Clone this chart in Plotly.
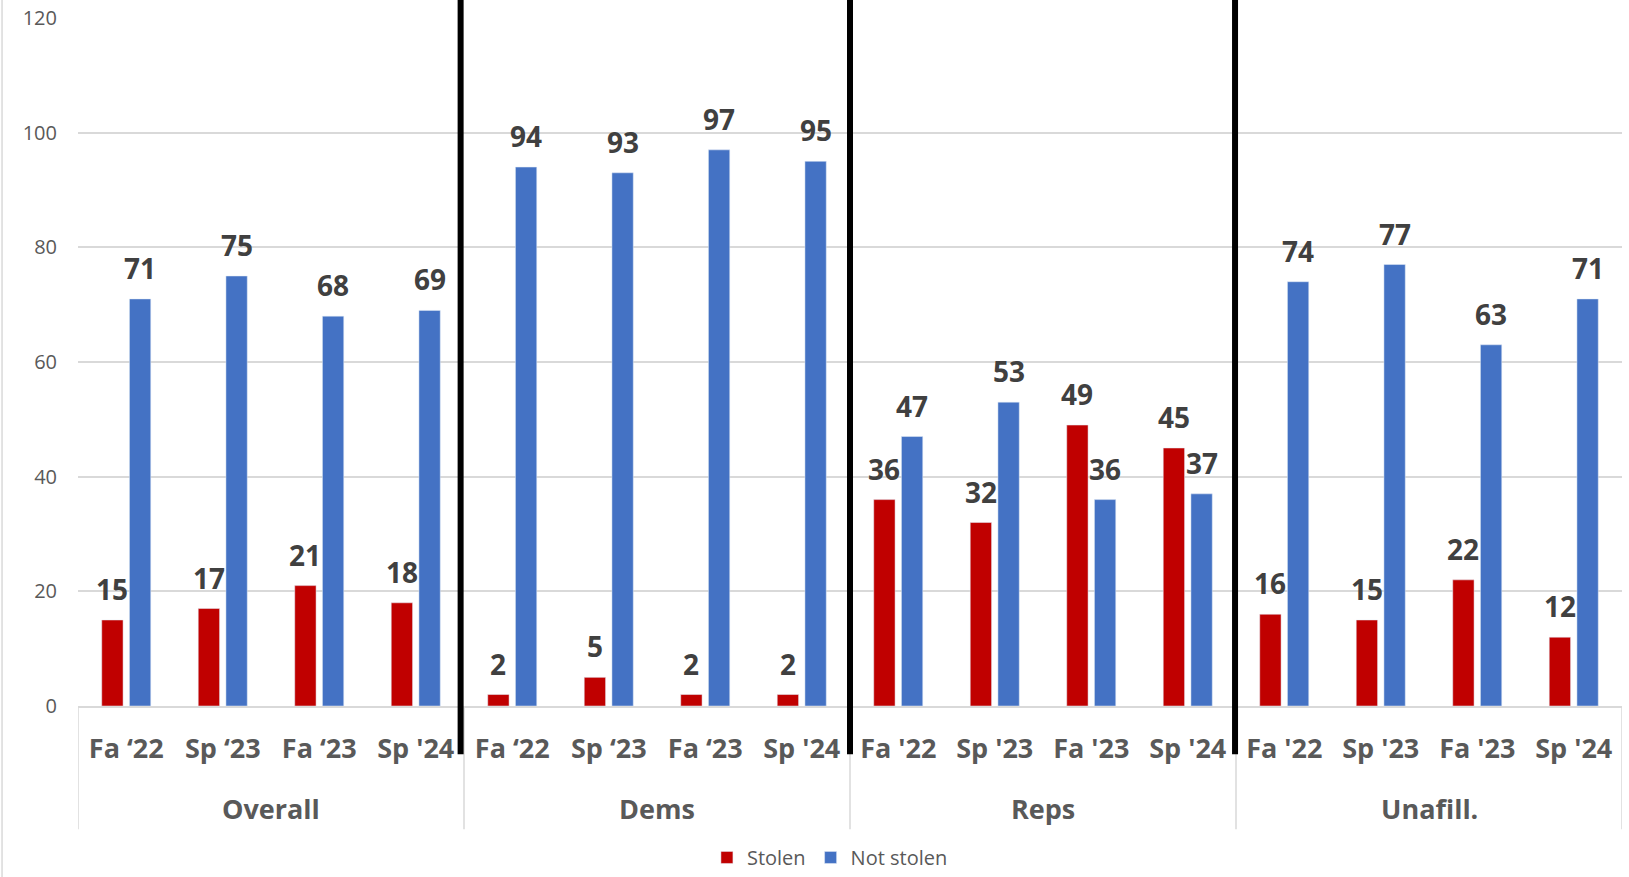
import plotly.graph_objects as go

groups = ["Overall", "Dems", "Reps", "Unafill."]
tick_labels = ["Fa \u201822", "Sp \u201823", "Fa \u201823", "Sp '24",
               "Fa \u201822", "Sp \u201823", "Fa \u201823", "Sp '24",
               "Fa '22", "Sp '23", "Fa '23", "Sp '24",
               "Fa '22", "Sp '23", "Fa '23", "Sp '24"]
stolen = [15, 17, 21, 18, 2, 5, 2, 2, 36, 32, 49, 45, 16, 15, 22, 12]
not_stolen = [71, 75, 68, 69, 94, 93, 97, 95, 47, 53, 36, 37, 74, 77, 63, 71]
series_names = ["Stolen", "Not stolen"]
y_ticks = [0, 20, 40, 60, 80, 100, 120]

RED = "#C00000"
BLUE = "#4472C4"
GRID = "#D9D9D9"
TXT = "#595959"
LBL = "#404040"
FONT = "Open Sans"

n = len(tick_labels)
per_group = n // len(groups)
xs = list(range(n))

BAR_W = 0.221
GAP = 0.033

fig = go.Figure()
fig.add_trace(go.Bar(x=xs, y=stolen, name=series_names[0], marker_color=RED,
                     width=BAR_W, offset=-(BAR_W + GAP)))
fig.add_trace(go.Bar(x=xs, y=not_stolen, name=series_names[1], marker_color=BLUE,
                     width=BAR_W, offset=GAP))

annotations = []
ctr = BAR_W / 2 + GAP
for i in xs:
    for val, dx in ((stolen[i], -ctr), (not_stolen[i], ctr)):
        annotations.append(dict(x=i + dx, y=val, xref="x", yref="y", text=str(val),
                                showarrow=False, yanchor="middle", yshift=31,
                                font=dict(family=FONT, size=28, color=LBL, weight="bold")))

for g, name in enumerate(groups):
    gc = g * per_group + (per_group - 1) / 2
    annotations.append(dict(x=gc, y=-0.149, xref="x", yref="paper", text=name,
                            showarrow=False, yanchor="middle",
                            font=dict(family=FONT, size=27, color=TXT, weight="bold")))

shapes = []
# light divider lines in the category label area
for g in range(len(groups) + 1):
    bx = g * per_group - 0.5
    shapes.append(dict(type="line", xref="x", yref="paper", x0=bx, x1=bx, y0=0, y1=-0.179,
                       line=dict(color=GRID, width=1.5)))
# thick black separators
for g, adj in zip(range(1, len(groups)), (-0.035, 0.0, -0.01)):
    bx = g * per_group - 0.5 + adj
    shapes.append(dict(type="line", xref="x", yref="paper", x0=bx, x1=bx, y0=1.03, y1=-0.07,
                       line=dict(color="black", width=6)))
# left chart border
shapes.append(dict(type="line", xref="paper", yref="paper", x0=-0.0492, x1=-0.0492, y0=1.03, y1=-0.26,
                   line=dict(color=GRID, width=1.5)))

fig.update_layout(
    width=1629, height=877,
    margin=dict(l=78, r=7, t=18, b=171, autoexpand=False),
    plot_bgcolor="white", paper_bgcolor="white",
    barmode="overlay",
    showlegend=True,
    legend=dict(orientation="h", x=0.487, xanchor="center", y=-0.2485, yanchor="bottom",
                font=dict(family=FONT, size=20, color=TXT), itemwidth=30,
                bgcolor="rgba(0,0,0,0)"),
    annotations=annotations,
    shapes=shapes,
    font=dict(family=FONT),
)
fig.update_xaxes(range=[-0.5, n - 0.5], tickmode="array", tickvals=xs, ticktext=tick_labels,
                 tickfont=dict(family=FONT, size=27, color=TXT, weight="bold"),
                 showgrid=False, showline=True, linecolor=GRID, linewidth=1.5,
                 ticks="", ticklabelstandoff=18, zeroline=False, fixedrange=True,
                 automargin=False)
fig.update_yaxes(range=[0, 120], tickmode="array", tickvals=y_ticks,
                 tickfont=dict(family=FONT, size=20, color=TXT),
                 showgrid=True, gridcolor=GRID, gridwidth=1.5, zeroline=False,
                 showline=False, ticks="", ticklabelstandoff=20, fixedrange=True,
                 automargin=False)

fig.write_html("out.html", config={"displayModeBar": False},
               post_script="document.body.style.margin='0';document.body.style.overflow='hidden';")
